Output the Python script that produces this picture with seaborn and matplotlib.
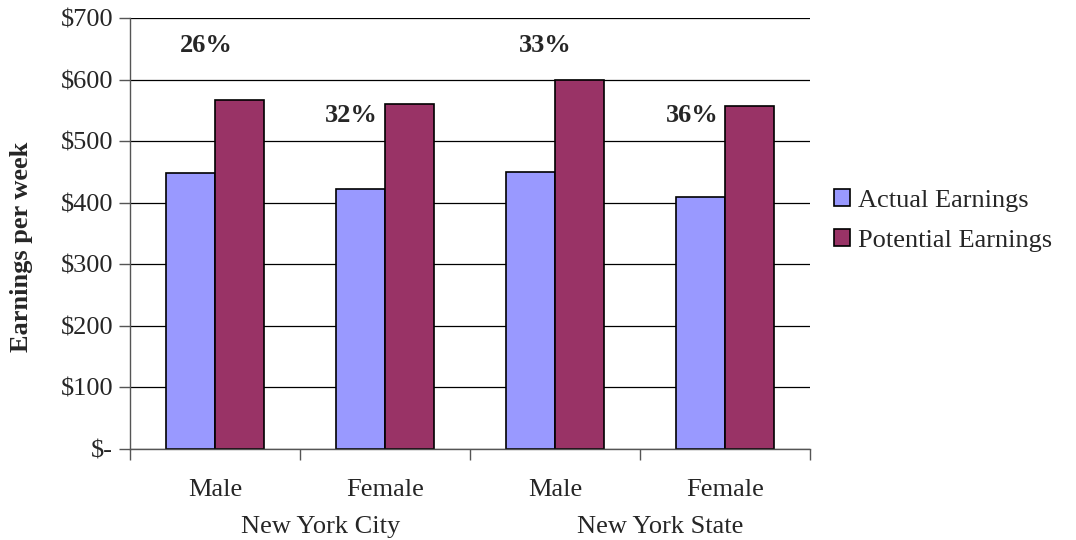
import numpy as np
import pandas as pd
import matplotlib.pyplot as plt
import seaborn as sns

# data
categories = ['Male', 'Female', 'Male ', 'Female ']
groups = ['New York City', 'New York State']
actual = [449, 423, 450, 410]
potential = [567, 560, 599, 557]
gaps = ['26%', '32%', '33%', '36%']
gap_y = [656, 542, 656, 542]

df = pd.DataFrame({
    'cat': categories * 2,
    'series': ['Actual Earnings'] * 4 + ['Potential Earnings'] * 4,
    'value': actual + potential,
})

sns.set_style('white')
plt.rcParams['font.family'] = ['Liberation Serif', 'DejaVu Serif']
fs = 19

fig = plt.figure(figsize=(10.76, 5.4), dpi=100)
ax = fig.add_axes([0.1208, 0.1685, 0.632, 0.798])

sns.barplot(data=df, x='cat', y='value', hue='series', ax=ax,
            palette=['#9999FF', '#993366'], edgecolor='black', linewidth=1.2,
            width=0.58, saturation=1)

ax.set_ylim(0, 700)
ax.set_xlim(-0.5, 3.5)
ax.set_yticks(range(0, 701, 100))
ax.set_yticklabels(['$-'] + [f'${v}' for v in range(100, 701, 100)], fontsize=fs)
ax.yaxis.grid(True, color='black', linewidth=0.9)
ax.set_axisbelow(True)
for s in ['top', 'right']:
    ax.spines[s].set_visible(False)
for s in ['left', 'bottom']:
    ax.spines[s].set_color('#555555')
    ax.spines[s].set_linewidth(1)

# ticks between categories
ax.set_xticks(np.arange(-0.5, 4, 1))
ax.set_xticklabels([])
ax.tick_params(axis='x', direction='out', length=8, width=1, color='#555555', bottom=True)
ax.tick_params(axis='y', direction='out', length=8, width=1, color='#555555', left=True, pad=4)

ax.set_xlabel('')
ax.set_ylabel('Earnings per week', fontsize=fs, fontweight='bold')
ax.yaxis.set_label_coords(-0.143, 0.47)

for i, c in enumerate(categories):
    ax.text(i, -0.095, c.strip(), transform=ax.get_xaxis_transform(),
            ha='center', va='center', fontsize=fs)
ax.text(0.62, -0.18, groups[0], transform=ax.get_xaxis_transform(),
        ha='center', va='center', fontsize=fs)
ax.text(2.62, -0.18, groups[1], transform=ax.get_xaxis_transform(),
        ha='center', va='center', fontsize=fs)

offs = [-0.05, -0.2, -0.06, -0.19]
for i, g in enumerate(gaps):
    ax.text(i + offs[i], gap_y[i], g, ha='center', va='center',
            fontsize=fs, fontweight='bold')

ax.legend(loc='center left', bbox_to_anchor=(1.0, 0.53), frameon=False,
          fontsize=fs, handlelength=0.6, handleheight=0.6, handletextpad=0.3,
          labelspacing=0.65)

fig.savefig('out.png', dpi=100)
